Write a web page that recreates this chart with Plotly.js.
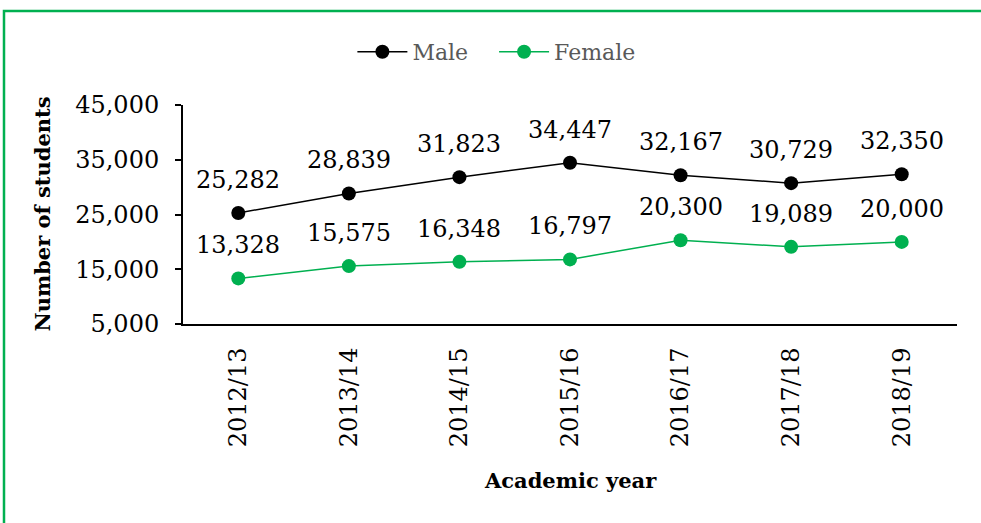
<!DOCTYPE html>
<html>
<head>
<meta charset="utf-8">
<script src="https://cdn.plot.ly/plotly-3.0.1.min.js"></script>
<style>
html,body{margin:0;padding:0;background:#fff;}
#chart{width:981px;height:523px;}
</style>
</head>
<body>
<div id="chart"></div>
<script>
const years = ["2012/13","2013/14","2014/15","2015/16","2016/17","2017/18","2018/19"];
const male = [25282, 28839, 31823, 34447, 32167, 30729, 32350];
const female = [13328, 15575, 16348, 16797, 20300, 19089, 20000];
const yTicks = [5000, 15000, 25000, 35000, 45000];
const seriesNames = ["Male", "Female"];

const FONT = "DejaVu Serif, Liberation Serif, serif";
const GREEN = "#00B050";

const traces = [
  {x: years, y: male, name: seriesNames[0] + "\u00a0\u00a0\u00a0", type: "scatter", mode: "lines+markers",
   line: {color: "#000000", width: 1.5}, marker: {color: "#000000", size: 14}},
  {x: years, y: female, name: seriesNames[1], type: "scatter", mode: "lines+markers",
   line: {color: GREEN, width: 1.5}, marker: {color: GREEN, size: 14}}
];

function fmt(v){ return v.toLocaleString("en-US"); }
const annotations = [];
years.forEach((yr, i) => {
  annotations.push({x: yr, y: male[i], xref: "x", yref: "y", text: fmt(male[i]), showarrow: false,
    yanchor: "middle", yshift: 33, font: {family: FONT, size: 24, color: "#000"}});
  annotations.push({x: yr, y: female[i], xref: "x", yref: "y", text: fmt(female[i]), showarrow: false,
    yanchor: "middle", yshift: 33, font: {family: FONT, size: 24, color: "#000"}});
});
annotations.push({text: "<b>Number of students</b>", xref: "paper", yref: "paper",
  x: (42 - 183) / 774, y: 0.5, xanchor: "center", yanchor: "middle", textangle: -90,
  showarrow: false, font: {family: FONT, size: 21, color: "#000"}});
annotations.push({text: "<b>Academic year</b>", xref: "paper", yref: "paper",
  x: 0.5, y: (324 - 480) / 219, xanchor: "center", yanchor: "middle",
  showarrow: false, font: {family: FONT, size: 21, color: "#000"}});

const layout = {
  width: 981, height: 523,
  margin: {l: 183, r: 24, t: 105, b: 199},
  paper_bgcolor: "#fff", plot_bgcolor: "#fff",
  font: {family: FONT, color: "#000"},
  showlegend: true,
  legend: {orientation: "h", xref: "container", yref: "container", x: 0.506, xanchor: "center",
    y: 1 - 52 / 523, yanchor: "middle", font: {family: FONT, size: 22, color: "#595959"},
    itemwidth: 50, bgcolor: "rgba(0,0,0,0)"},
  xaxis: {type: "category", range: [-0.5, 6.5], showline: true, linecolor: "#000", linewidth: 2,
    showgrid: false, zeroline: false, ticks: "", tickangle: -90, ticklabelstandoff: 12,
    tickfont: {family: FONT, size: 24, color: "#000"}, fixedrange: true},
  yaxis: {range: [5000, 45000], tickvals: yTicks, ticktext: yTicks.map(fmt),
    showline: true, linecolor: "#000", linewidth: 2, showgrid: false, zeroline: false,
    ticks: "outside", ticklen: 6, tickwidth: 2, tickcolor: "#000", ticklabelstandoff: 11,
    tickfont: {family: FONT, size: 24, color: "#000"}, fixedrange: true},
  annotations: annotations,
  shapes: [{type: "rect", xref: "paper", yref: "paper",
    x0: (4 - 183) / 774, x1: 1.2, y0: -1.2, y1: (324 - 11) / 219,
    line: {color: GREEN, width: 2.5}, fillcolor: "rgba(0,0,0,0)", layer: "above"}]
};

Plotly.newPlot("chart", traces, layout, {displayModeBar: false, staticPlot: true});
</script>
</body>
</html>
